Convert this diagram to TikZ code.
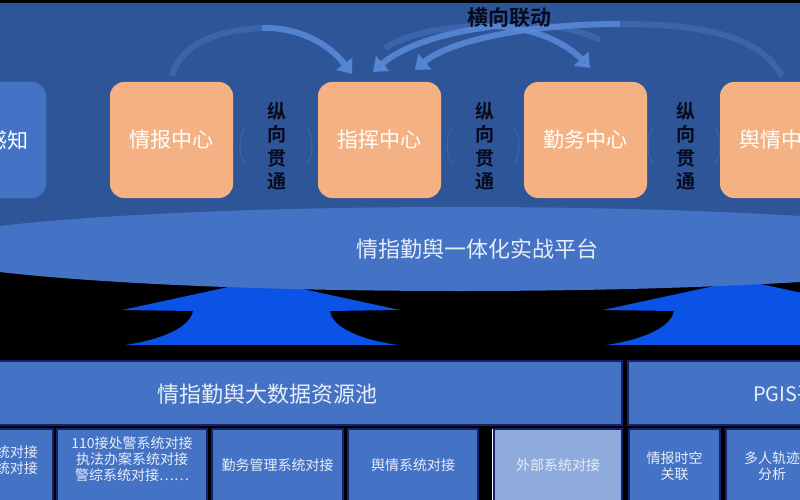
\documentclass[tikz,border=0pt]{standalone}
\usepackage{fontspec}
\setmainfont{Noto Sans CJK SC}[BoldFont={Noto Sans CJK SC Bold}]
\usetikzlibrary{arrows.meta}
\definecolor{panel}{HTML}{2E5597}
\definecolor{platform}{HTML}{4472C4}
\definecolor{orangebox}{HTML}{F4B183}
\definecolor{uparrow}{HTML}{0B52E6}
\definecolor{navyline}{HTML}{16206B}
\definecolor{lightcell}{HTML}{8FAADC}
\definecolor{lighttext}{HTML}{E8EEF8}
\definecolor{darktext}{HTML}{080A1E}
\definecolor{arcblue}{HTML}{5A8AD8}
\definecolor{faintarc}{HTML}{3760A6}
\tikzset{
  centrebox/.style={rounded corners=14pt, fill=orangebox, minimum width=123pt, minimum height=116pt, inner sep=0pt, text=white, font=\fontsize{21}{25}\selectfont},
  sidebox/.style={rounded corners=14pt, fill=platform, minimum width=126pt, minimum height=116pt, inner sep=0pt},
  vtext/.style={align=center, text=darktext, font=\bfseries\fontsize{19}{23.5}\selectfont, inner sep=0pt},
  cellbox/.style={fill=platform, draw=navyline, line width=1.2pt},
  celltext/.style={align=center, text=lighttext, font=\fontsize{14}{16}\selectfont, inner sep=0pt},
  bigtext/.style={text=lighttext, font=\fontsize{22}{26}\selectfont, inner sep=0pt},
  arctail/.style={draw=arcblue, line width=6pt, opacity=0.3},
  archead/.style={draw=arcblue, line width=6pt, opacity=0.85, -{Triangle[width=20pt,length=13pt]}},
  faint/.style={draw=faintarc, line width=1.5pt}
}
\begin{document}
\begin{tikzpicture}[x=1pt,y=-1pt]
\useasboundingbox (0,0) rectangle (800,500);
\clip (0,0) rectangle (800,500);
\fill[black] (0,0) rectangle (800,500);
\fill[panel] (0,3) rectangle (800,255);

% upward block arrows (tips hidden under the platform)
\fill[uparrow] (261,280) -- (122,310) -- (193,311) .. controls (190,328) and (160,340) .. (125,345) -- (398,345) .. controls (362,340) and (332,328) .. (330,311) -- (400,310) -- cycle;
\fill[uparrow] (742,280) -- (603,310) -- (674,311) .. controls (671,328) and (641,340) .. (606,345) -- (879,345) .. controls (843,340) and (813,328) .. (811,311) -- (881,310) -- cycle;

% platform
\fill[platform] (460,249) ellipse [x radius=550pt, y radius=42pt];
\node[bigtext] (platformtext) at (477,249) {情指勤舆一体化实战平台};

% faint circular arcs around the vertical labels
\foreach \cx in {78,276,483,684}{
  \draw[faint] ([shift={(150:36pt)}]\cx,146) arc[start angle=150,end angle=210,radius=36pt];
  \draw[faint] ([shift={(-30:36pt)}]\cx,146) arc[start angle=-30,end angle=30,radius=36pt];
}

% centre boxes
\node[sidebox] (sense) at (-17,140) {};
\node[anchor=east, text=white, font=\fontsize{21}{25}\selectfont, inner sep=0pt] (sensetext) at (29,140) {感知};
\node[centrebox] (intel) at (171.5,140) {情报中心};
\node[centrebox] (command) at (379.5,140) {指挥中心};
\node[centrebox] (duty) at (585.5,140) {勤务中心};
\node[centrebox] (opinion) at (781.5,140) {舆情中心};

% vertical labels
\node[vtext] (v1) at (277,146) {纵\\向\\贯\\通};
\node[vtext] (v2) at (485,146) {纵\\向\\贯\\通};
\node[vtext] (v3) at (686,146) {纵\\向\\贯\\通};

% horizontal linkage arcs
\coordinate (aS) at (172,76);  \coordinate (aM) at (262,28);  \coordinate (aE) at (352,74);
\coordinate (bS) at (600,40);  \coordinate (bM) at (490,27);  \coordinate (bE) at (373,72);
\coordinate (cS) at (782,76);  \coordinate (cM) at (620,24);  \coordinate (cE) at (415,70);
\coordinate (dS) at (385,48);  \coordinate (dM) at (490,26);  \coordinate (dE) at (590,68);
\draw[arctail] (aS) .. controls (180,45) and (215,30) .. (aM);
\draw[archead] (aM) .. controls (300,27) and (330,45) .. (aE);
\draw[arctail] (cS) .. controls (760,35) and (700,24) .. (cM);
\draw[archead] (cM) .. controls (530,24) and (450,40) .. (cE);
\draw[arctail] (bS) .. controls (570,25) and (530,22) .. (bM);
\draw[archead] (bM) .. controls (440,33) and (400,48) .. (bE);
\draw[arctail] (dS) .. controls (410,32) and (450,26) .. (dM);
\draw[archead] (dM) .. controls (530,26) and (565,42) .. (dE);
\node[text=darktext, font=\bfseries\fontsize{21}{25}\selectfont, inner sep=0pt] (linkage) at (509,18) {横向联动};

% resource pool row
\draw[cellbox] (-88,361) rectangle (622,425);
\node[bigtext] (pool) at (267,394) {情指勤舆大数据资源池};
\draw[cellbox] (628,361) rectangle (980,425);
\node[bigtext, anchor=west, font=\fontsize{20}{24}\selectfont] (pgis) at (753,394) {PGIS平台};

% bottom cells
\draw[cellbox] (-100,429) rectangle (53,505);
\node[celltext, anchor=east] (c1) at (38,460) {系统对接\\系统对接};
\draw[cellbox] (57,429) rectangle (207,505);
\node[celltext] (c2) at (132,459) {110接处警系统对接\\执法办案系统对接\\警综系统对接……};
\draw[cellbox] (212,429) rectangle (343,505);
\node[celltext] (c3) at (277.5,465) {勤务管理系统对接};
\draw[cellbox] (348,429) rectangle (478,505);
\node[celltext] (c4) at (413,465) {舆情系统对接};
\draw[white, line width=1pt] (492,429) -- (492,500);
\draw[cellbox, fill=lightcell] (494,429) rectangle (622,505);
\node[celltext] (c5) at (558,465) {外部系统对接};
\draw[cellbox] (629,429) rectangle (720,505);
\node[celltext] (c6) at (674.5,466) {情报时空\\关联};
\draw[cellbox] (726,429) rectangle (818,505);
\node[celltext] (c7) at (772,466) {多人轨迹\\分析};
\end{tikzpicture}
\end{document}
